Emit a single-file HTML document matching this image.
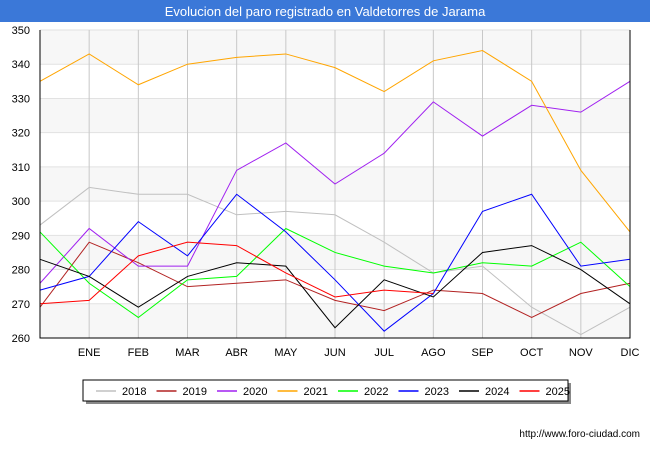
<!DOCTYPE html>
<html><head><meta charset="utf-8"><style>
body{margin:0;background:#fff;font-family:"Liberation Sans","DejaVu Sans",sans-serif}
</style></head><body>
<svg width="650" height="450" xmlns="http://www.w3.org/2000/svg">
<rect x="0" y="0" width="650" height="450" fill="#fff"/>
<rect x="0" y="0" width="650" height="22" fill="#3b78d8"/>
<text x="325" y="16" text-anchor="middle" font-size="13" fill="#fff">Evolucion del paro registrado en Valdetorres de Jarama</text>
<g id="plot"></g>
<rect x="86" y="383" width="485" height="21" fill="#888"/>
<rect x="83" y="380" width="485" height="21" fill="#fff" stroke="#000" stroke-width="1"/>
<g id="legend"></g>
<text x="640" y="437" text-anchor="end" font-size="10" fill="#000">http://www.foro-ciudad.com</text>
</svg>
<script>
const months=["","ENE","FEB","MAR","ABR","MAY","JUN","JUL","AGO","SEP","OCT","NOV","DIC"];
const yTicks=[260,270,280,290,300,310,320,330,340,350];
const seriesNames=["2018","2019","2020","2021","2022","2023","2024","2025"];
const colors=["#c0c0c0","#b22222","#a020f0","#ffa500","#00ff00","#0000ff","#000000","#ff0000"];
const s2018=[293,304,302,302,296,297,296,288,279,281,269,261,269];
const s2019=[269,288,282,275,276,277,271,268,274,273,266,273,276];
const s2020=[276,292,281,281,309,317,305,314,329,319,328,326,335];
const s2021=[335,343,334,340,342,343,339,332,341,344,335,309,291];
const s2022=[291,276,266,277,278,292,285,281,279,282,281,288,275];
const s2023=[274,278,294,284,302,291,277,262,273,297,302,281,283];
const s2024=[283,278,269,278,282,281,263,277,272,285,287,280,270];
const s2025=[270,271,284,288,287,279,272,274,273];
const all=[s2018,s2019,s2020,s2021,s2022,s2023,s2024,s2025];
const NS="http://www.w3.org/2000/svg";
const L=40,R=630,T=30,B=338,ymin=260,ymax=350;
const x=i=>L+(R-L)*i/(months.length-1);
const y=v=>B-(v-ymin)/(ymax-ymin)*(B-T);
const plot=document.getElementById('plot');
function mk(t,a,p){const e=document.createElementNS(NS,t);for(const k in a)e.setAttribute(k,a[k]);(p||plot).appendChild(e);return e;}
for(let k=0;k<yTicks.length-1;k++){
  if(k%2==0){const r=mk('rect',{x:L,y:y(yTicks[k+1]),width:R-L,height:y(yTicks[k])-y(yTicks[k+1]),fill:'#f7f7f7'});
  
  }
}
yTicks.forEach(v=>{
  const g=mk('line',{x1:L,x2:R,y1:y(v),y2:y(v),stroke:'#e2e2e2','stroke-width':1});
  
  
  const t=mk('text',{x:L-10,y:y(v)+4,'text-anchor':'end','font-size':11,fill:'#000'});t.textContent=v;
  
  
});
months.forEach((m,i)=>{
  const g=mk('line',{x1:x(i),x2:x(i),y1:T,y2:B,stroke:'#c8c8c8','stroke-width':1});
  
  
  const t=mk('text',{x:x(i),y:B+18,'text-anchor':'middle','font-size':11,fill:'#000'});t.textContent=m;
  
  
});
all.forEach((s,k)=>{
  const p=mk('polyline',{points:s.map((v,i)=>x(i)+','+y(v)).join(' '),fill:'none',stroke:colors[k],'stroke-width':1});
  
  
});
const ax=mk('path',{d:`M${L} ${T}V${B}H${R}V${T}`,fill:'none',stroke:'#000','stroke-width':1});


const lg=document.getElementById('legend');
seriesNames.forEach((n,k)=>{
  const lx=96+k*60.5;
  const l=mk('line',{x1:lx,x2:lx+20,y1:391,y2:391,stroke:colors[k],'stroke-width':1.5},lg);
  
  
  const t=mk('text',{x:lx+26,y:395,'font-size':11,fill:'#000'},lg);t.textContent=n;
  
  
});
</script>
</body></html>
